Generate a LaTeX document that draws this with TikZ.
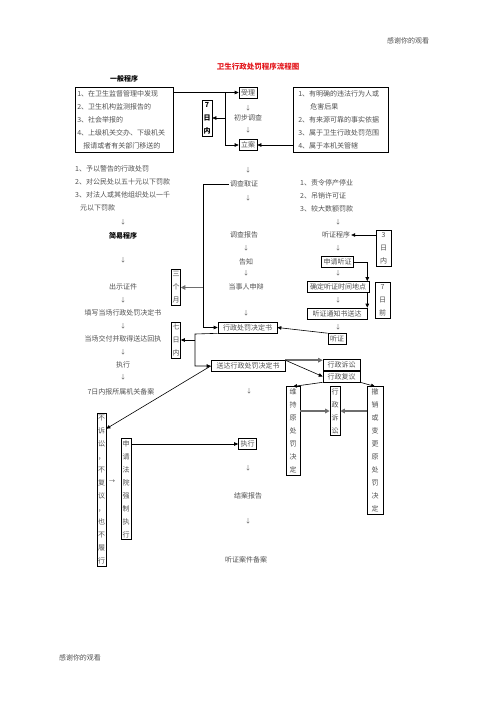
\documentclass[tikz,border=0pt]{standalone}
\usepackage{fontspec}
\setmainfont{Noto Sans CJK SC}
\usepackage{tikz}
\usetikzlibrary{arrows.meta, positioning, calc}
\definecolor{titlered}{HTML}{E3191E}
\definecolor{textgray}{HTML}{505050}
\definecolor{linegray}{HTML}{6E6E6E}

\begin{document}
\begin{tikzpicture}[
  x=1pt, y=-1pt,
  every node/.style={font=\fontsize{7}{13}\selectfont, text=textgray, inner sep=1pt},
  frame/.style={draw=black, line width=0.6pt, inner xsep=2pt, inner ysep=1.5pt, minimum height=11pt},
  vframe/.style={draw=black, line width=0.6pt, align=center, inner xsep=1pt, inner ysep=2pt, minimum width=#1},
  vframe/.default=10pt,
  listbox/.style={draw=black, line width=0.6pt, align=left, anchor=north west, minimum height=65pt, font=\fontsize{7}{12.8}\selectfont},
  heading/.style={font=\fontsize{7}{13}\selectfont\bfseries, text=black},
  down/.style={font=\fontsize{6}{7}\selectfont},
  arrow/.style={-{Triangle[length=4pt, width=3.5pt]}, line width=0.6pt},
  grayarrow/.style={-{Triangle[length=4.5pt, width=4.5pt]}, line width=1.5pt, draw=linegray}
]
  \useasboundingbox (0,0) rectangle (496,702);

  % Page notes and title
  \node (thanktop) at (408,41) {感谢你的观看};
  \node (thankbottom) at (80,658) {感谢你的观看};
  \node[font=\fontsize{7.5}{9}\selectfont\bfseries, text=titlered] (title) at (258,67) {卫生行政处罚程序流程图};
  \node[heading] (general) at (124,79) {一般程序};

  % Sources and conditions
  \node[listbox, text width=94pt, inner xsep=2pt] (source) at (75,87)
    {1、在卫生监督管理中发现\\2、卫生机构监测报告的\\3、社会举报的\\4、上级机关交办、下级机关\\\hspace*{6pt}报请或者有关部门移送的};
  \node[listbox, text width=85pt, inner xsep=5pt] (cond) at (293,87)
    {1、有明确的违法行为人或\\\hspace*{12pt}危害后果\\2、有来源可靠的事实依据\\3、属于卫生行政处罚范围\\4、属于本机关管辖};

  % Middle column
  \node[frame] (accept) at (248,92.5) {受理};
  \node[vframe, heading, inner ysep=2pt] (sevenin) at (207,118) {7\\日\\内};
  \node[down] (dn1) at (248,108) {↓};
  \node (prelim) at (248,118) {初步调查};
  \node[down] (dn2) at (248,130) {↓};
  \node[frame] (register) at (248,145) {立案};
  \node[down] (dn3) at (248,170) {↓};
  \node (investigate) at (244,184) {调查取证};
  \node[down] (dn4) at (248,198) {↓};
  \node (report) at (244,235) {调查报告};
  \node[down] (dn5) at (246,248) {↓};
  \node (notify) at (246,262) {告知};
  \node[down] (dn6) at (246,273) {↓};
  \node (defend) at (246,287) {当事人申辩};
  \node[down] (dn7) at (246,313) {↓};
  \node[frame, minimum width=59pt] (decision) at (247.5,327.5) {行政处罚决定书};
  \node[frame, minimum width=74pt] (deliver) at (248,366) {送达行政处罚决定书};
  \node[down] (dn8) at (249,391) {↓};
  \node[frame] (execmid) at (247.5,444) {执行};
  \node[down] (dn9) at (248,468) {↓};
  \node (closing) at (248,496) {结案报告};
  \node[down] (dn10) at (248,521) {↓};
  \node (hearfile) at (246,560) {听证案件备案};

  % Simple procedure (left column)
  \node[align=left, anchor=north west, font=\fontsize{7}{13.2}\selectfont] (simplecases) at (74,164)
    {1、予以警告的行政处罚\\2、对公民处以五十元以下罚款\\3、对法人或其他组织处以一千\\\hspace*{5pt}元以下罚款};
  \node[down] (dnl1) at (123,222) {↓};
  \node[heading] (simple) at (123,236) {简易程序};
  \node[down] (dnl2) at (123,260) {↓};
  \node (showid) at (123,287) {出示证件};
  \node[down] (dnl3) at (123,300) {↓};
  \node (fillin) at (123,313) {填写当场行政处罚决定书};
  \node[down] (dnl4) at (123,326) {↓};
  \node (handover) at (123,339) {当场交付并取得送达回执};
  \node[down] (dnl5) at (123,352) {↓};
  \node (execleft) at (123,365) {执行};
  \node[down] (dnl6) at (123,377) {↓};
  \node (record) at (121,392) {7日内报所属机关备案};
  \node[vframe=9pt, inner xsep=0.5pt] (threemonths) at (176,287.5) {三\\个\\月};
  \node[vframe=9pt, inner xsep=0.5pt] (sevendays) at (176,340) {七\\日\\内};

  % Hearing procedure (right column)
  \node[align=left, anchor=north west, font=\fontsize{7}{13}\selectfont] (heavycases) at (299,178)
    {1、责令停产停业\\2、吊销许可证\\3、较大数额罚款};
  \node[down] (dnr1) at (338,222) {↓};
  \node (hearing) at (336,235) {听证程序};
  \node[vframe=15pt] (threedays) at (383.5,248.5) {3\\日\\内};
  \node[down] (dnr2) at (338,248) {↓};
  \node[frame, minimum width=31pt] (apply) at (337.5,262) {申请听证};
  \node[down] (dnr3) at (338,273) {↓};
  \node[frame, minimum width=62pt] (settime) at (338,287) {确定听证时间地点};
  \node[vframe=15pt] (sevenbefore) at (382.5,300.5) {7\\日\\前};
  \node[down] (dnr4) at (338,300) {↓};
  \node[frame, minimum width=60pt] (sendnotice) at (337,313.5) {听证通知书送达};
  \node[down] (dnr5) at (338,327) {↓};
  \node[frame] (hear) at (337,339) {听证};

  % Remedies
  \node[frame, minimum width=37pt, inner ysep=1pt] (suit) at (341.5,364.5) {行政诉讼};
  \node[frame, minimum width=37pt, inner ysep=1pt] (review) at (341.5,376.5) {行政复议};
  \node[vframe=14pt] (uphold) at (293,431) {维\\持\\原\\处\\罚\\决\\定};
  \node[vframe=10pt] (suitv) at (335,411) {行\\政\\诉\\讼};
  \node[vframe=16pt] (revoke) at (375,450.5) {撤\\销\\或\\变\\更\\原\\处\\罚\\决\\定};
  \node[vframe=9pt, inner xsep=0.5pt] (noaction) at (101.5,489.5) {不\\诉\\讼\\，\\不\\复\\议\\，\\也\\不\\履\\行};
  \node[down] (dnarrow) at (112,482) {→};
  \node[vframe=10pt] (court) at (126,489) {申\\请\\法\\院\\强\\制\\执\\行};

  % Helper points
  \coordinate (branch) at (225,92);
  \coordinate (trunk) at (203,184);
  \coordinate (bend) at (195,334);

  % Arrows
  \draw[arrow] (source.east |- accept) -- (accept.west);
  \draw[arrow] (branch) |- (register.west);
  \draw[arrow] (branch |- sevenin.east) -- (sevenin.east);
  \draw[arrow] (cond.west |- register) -- (register.east);
  \draw[arrow] (investigate.west) -- (trunk) |- (decision.west);
  \draw[grayarrow] (trunk |- threemonths.east) -- (threemonths.east);
  \draw[arrow] (threedays.west |- hearing) -- (hearing.east);
  \draw[arrow] (apply.east) -| ([xshift=-2pt]settime.north east);
  \draw[arrow] ([xshift=-2pt]settime.south east) -- ([xshift=-2pt]settime.south east |- sendnotice.north);
  \draw[arrow] (hear.north west) -- (decision.east);
  \draw[arrow] (decision.south west) -- (bend) |- (deliver.west);
  \draw[arrow] (bend |- sevendays.east) -- (sevendays.east);
  \draw[grayarrow] (deliver.north east) -- (deliver.north east -| suit.west);
  \draw[arrow] (deliver.north east) -- (review.west);
  \draw[arrow] (review.south west) -- (uphold.north);
  \draw[arrow] (review.south east) -- (revoke.north);
  \draw[grayarrow] (uphold.east |- suitv) -- (suitv.west);
  \draw[grayarrow] (revoke.west |- suitv) -- (suitv.east);
  \draw[arrow] (deliver.west) -- ([yshift=-16pt]noaction.north east);
  \draw[arrow] ([yshift=-7pt]court.north east) -- (court.north east |- execmid.west) -- (execmid.west);
\end{tikzpicture}
\end{document}
